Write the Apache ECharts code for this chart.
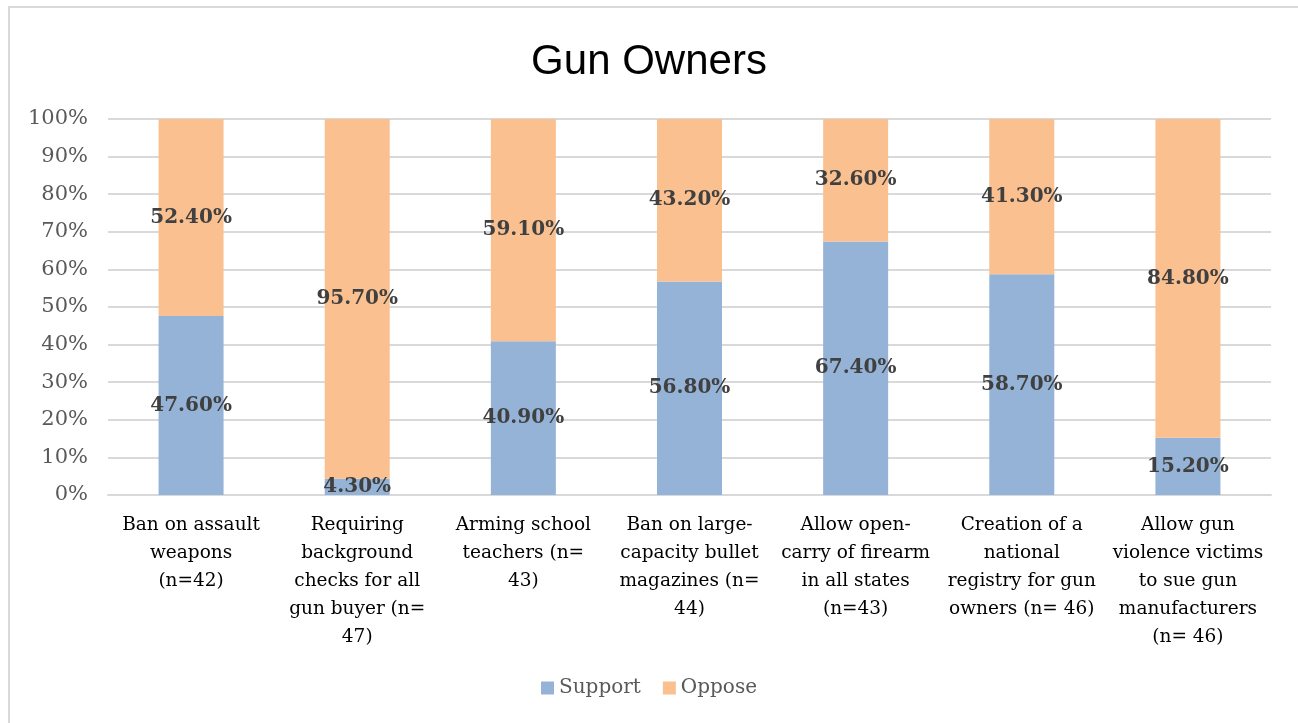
<!DOCTYPE html>
<html><head><meta charset="utf-8">
<script src="https://cdn.jsdelivr.net/npm/echarts@6/dist/echarts.min.js"></script>
<style>html,body{margin:0;padding:0;background:#fff}#c{width:1298px;height:723px}</style>
</head><body><div id="c"></div>
<script>
const categories = [
  "Ban on assault\nweapons\n(n=42)",
  "Requiring\nbackground\nchecks for all\ngun buyer (n=\n47)",
  "Arming school\nteachers (n=\n43)",
  "Ban on large-\ncapacity bullet\nmagazines (n=\n44)",
  "Allow open-\ncarry of firearm\nin all states\n(n=43)",
  "Creation of a\nnational\nregistry for gun\nowners (n= 46)",
  "Allow gun\nviolence victims\nto sue gun\nmanufacturers\n(n= 46)"
];
const support = [47.6, 4.3, 40.9, 56.8, 67.4, 58.7, 15.2];
const oppose = [52.4, 95.7, 59.1, 43.2, 32.6, 41.3, 84.8];
const yTicks = [0, 10, 20, 30, 40, 50, 60, 70, 80, 90, 100];

const chart = echarts.init(document.getElementById('c'));
const labelStyle = {
  show: true, position: 'inside',
  formatter: p => p.value.toFixed(2) + '%',
  fontFamily: 'DejaVu Serif', fontWeight: 'bold', fontSize: 20, color: '#404040'
};
chart.setOption({
  animation: false,
  title: {
    text: 'Gun Owners', left: 'center', top: 36,
    textStyle: {fontFamily: 'Liberation Sans', fontWeight: 'normal', fontSize: 42, color: '#000'}
  },
  graphic: [{
    type: 'rect', shape: {x: 9, y: 7, width: 1300, height: 730},
    style: {fill: 'none', stroke: '#d9d9d9', lineWidth: 2}, silent: true, z: -1
  }],
  legend: {
    bottom: 20, left: 'center', itemWidth: 13, itemHeight: 13, itemGap: 22,
    icon: 'rect',
    textStyle: {fontFamily: 'DejaVu Serif', fontSize: 20, color: '#595959'},
    data: ['Support', 'Oppose']
  },
  grid: {left: 108, right: 27, top: 119, bottom: 228},
  xAxis: {
    type: 'category', data: categories,
    axisLine: {lineStyle: {color: '#d9d9d9', width: 2}},
    axisTick: {show: false},
    axisLabel: {
      interval: 0, margin: 16, lineHeight: 28,
      fontFamily: 'DejaVu Serif', fontSize: 18.5, color: '#000'
    }
  },
  yAxis: {
    type: 'value', min: 0, max: 100, interval: 10,
    axisLine: {show: false}, axisTick: {show: false},
    splitLine: {lineStyle: {color: '#d9d9d9', width: 2}},
    axisLabel: {
      margin: 20, fontFamily: 'DejaVu Serif', fontSize: 21, color: '#595959',
      formatter: v => yTicks.includes(v) ? v + '%' : ''
    }
  },
  series: [
    {name: 'Support', type: 'bar', stack: 'a', data: support, barWidth: 65,
     itemStyle: {color: '#95b3d7'}, label: labelStyle},
    {name: 'Oppose', type: 'bar', stack: 'a', data: oppose, barWidth: 65,
     itemStyle: {color: '#fac090'}, label: labelStyle}
  ]
});
</script></body></html>
